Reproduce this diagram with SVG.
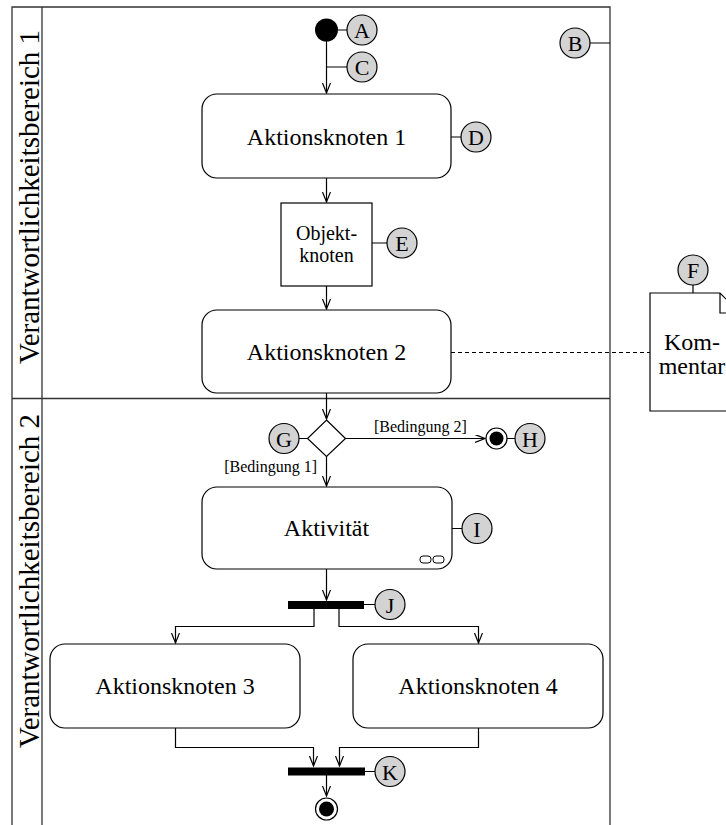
<svg xmlns="http://www.w3.org/2000/svg" width="726" height="825" viewBox="0 0 726 825">
<defs>
<style>
text{font-family:"Liberation Serif","Times New Roman",serif;fill:#000}
.box{fill:#fff;stroke:#000;stroke-width:1.2}
.frame{fill:none;stroke:#333;stroke-width:1.3}
.flow{fill:none;stroke:#000;stroke-width:1.2}
.tie{fill:none;stroke:#000;stroke-width:1.2}
.lbl{fill:#d3d3d3;stroke:#000;stroke-width:1.2}
.lt{font-size:22px;text-anchor:middle}
.main{font-size:24px;text-anchor:middle}
.cond{font-size:16px}
.lane{font-size:29px;text-anchor:middle}
.bar{fill:#000}
</style>
<marker id="arr" markerUnits="userSpaceOnUse" markerWidth="12" markerHeight="10" refX="10" refY="4" orient="auto">
<path d="M0,0 L10,4 L0,8" fill="none" stroke="#000" stroke-width="1.2"/>
</marker>
</defs>
<rect width="726" height="825" fill="#fff"/>

<g id="swimlanes">
<path class="frame" d="M12,826 V7 H610 V826 M42,7 V826 M12,398.5 H610"/>
<text class="lane" transform="translate(39,197) rotate(-90)">Verantwortlichkeitsbereich 1</text>
<text class="lane" transform="translate(39,581) rotate(-90)">Verantwortlichkeitsbereich 2</text>
</g>

<g id="connectors">
<path class="flow" d="M326.5,41 V93" marker-end="url(#arr)"/>
<path class="flow" d="M326.5,178 V202" marker-end="url(#arr)"/>
<path class="flow" d="M326.5,286 V309" marker-end="url(#arr)"/>
<path class="flow" d="M326.5,393 V419" marker-end="url(#arr)"/>
<path class="flow" d="M326.5,456 V486" marker-end="url(#arr)"/>
<path class="flow" d="M346,438.5 H485" marker-end="url(#arr)"/>
<path class="flow" d="M326.5,569 V600" marker-end="url(#arr)"/>
<path class="flow" d="M314,608 V626.5 H175.5 V643" marker-end="url(#arr)"/>
<path class="flow" d="M339,608 V626.5 H478.5 V643" marker-end="url(#arr)"/>
<path class="flow" d="M175.5,728 V747.5 H313.5 V766" marker-end="url(#arr)"/>
<path class="flow" d="M478.5,728 V747.5 H339.5 V766" marker-end="url(#arr)"/>
<path class="flow" d="M326.5,775 V796" marker-end="url(#arr)"/>
<path class="tie" d="M451,352.5 H650" stroke-dasharray="4,3"/>
<path class="tie" d="M338,30 H347 M326.5,67 H347 M590,43 H610 M451,137 H461 M372,243 H387 M693,285 V293 M299,438.5 H308 M507,438.5 H515 M452,528.5 H462 M364,604.5 H375 M365,771.5 H375"/>
</g>

<g id="start">
<circle cx="326.5" cy="30" r="11.5" fill="#000"/>
</g>
<g id="A"><circle class="lbl" cx="362" cy="30" r="15"/><text class="lt" x="362" y="38">A</text></g>
<g id="B"><circle class="lbl" cx="575" cy="43" r="15"/><text class="lt" x="575" y="51">B</text></g>
<g id="C"><circle class="lbl" cx="362" cy="67" r="15"/><text class="lt" x="362" y="75">C</text></g>

<g id="aktionsknoten1">
<rect class="box" x="202" y="94" width="249" height="84" rx="15"/>
<text class="main" x="326.5" y="145">Aktionsknoten 1</text>
</g>
<g id="D"><circle class="lbl" cx="476" cy="137" r="15"/><text class="lt" x="476" y="145">D</text></g>

<g id="objektknoten">
<rect class="box" x="281" y="203" width="91" height="83"/>
<text x="326.5" y="240" style="font-size:20px;text-anchor:middle">Objekt-</text>
<text x="326.5" y="262" style="font-size:20px;text-anchor:middle">knoten</text>
</g>
<g id="E"><circle class="lbl" cx="402" cy="243" r="15"/><text class="lt" x="402" y="251">E</text></g>

<g id="aktionsknoten2">
<rect class="box" x="202" y="310" width="249" height="83" rx="15"/>
<text class="main" x="326.5" y="360">Aktionsknoten 2</text>
</g>

<g id="kommentar">
<path class="box" d="M650,293 H720 L740,313 V411 H650 Z"/>
<path class="flow" d="M720,293 V313 H740"/>
<text class="main" x="692" y="350">Kom-</text>
<text class="main" x="692" y="374">mentar</text>
</g>
<g id="F"><circle class="lbl" cx="693" cy="270" r="15"/><text class="lt" x="693" y="278">F</text></g>

<g id="entscheidung">
<path class="box" d="M326.5,420 L345.5,438.5 L326.5,456.5 L307.5,438.5 Z"/>
<text class="cond" x="374" y="432">[Bedingung 2]</text>
<text class="cond" x="317" y="472" text-anchor="end">[Bedingung 1]</text>
</g>
<g id="G"><circle class="lbl" cx="284" cy="438.5" r="15"/><text class="lt" x="284" y="446.5">G</text></g>

<g id="ende1">
<circle cx="496.5" cy="438.5" r="10.5" fill="#fff" stroke="#000" stroke-width="1.2"/>
<circle cx="496.5" cy="438.5" r="7" fill="#000"/>
</g>
<g id="H"><circle class="lbl" cx="530" cy="438.5" r="15"/><text class="lt" x="530" y="446.5">H</text></g>

<g id="aktivitaet">
<rect class="box" x="202" y="487" width="250" height="82" rx="15"/>
<text class="main" x="326.5" y="536">Aktivität</text>
<rect x="420" y="556" width="11" height="7" rx="3" fill="none" stroke="#000" stroke-width="1"/>
<rect x="433" y="556" width="11" height="7" rx="3" fill="none" stroke="#000" stroke-width="1"/>
</g>
<g id="I"><circle class="lbl" cx="477" cy="528.5" r="15"/><text class="lt" x="477" y="536.5">I</text></g>

<g id="gabelung"><rect class="bar" x="288" y="601" width="76" height="8"/></g>
<g id="J"><circle class="lbl" cx="390" cy="604.5" r="15"/><text class="lt" x="390" y="612.5">J</text></g>

<g id="aktionsknoten3">
<rect class="box" x="50" y="644" width="250" height="84" rx="15"/>
<text class="main" x="175" y="694">Aktionsknoten 3</text>
</g>
<g id="aktionsknoten4">
<rect class="box" x="353" y="644" width="250" height="84" rx="15"/>
<text class="main" x="478" y="694">Aktionsknoten 4</text>
</g>

<g id="vereinigung"><rect class="bar" x="288" y="767.5" width="77" height="8"/></g>
<g id="K"><circle class="lbl" cx="390" cy="771.5" r="15"/><text class="lt" x="390" y="779.5">K</text></g>

<g id="ende2">
<circle cx="326.5" cy="809" r="11" fill="#fff" stroke="#000" stroke-width="1.2"/>
<circle cx="326.5" cy="809" r="7.5" fill="#000"/>
</g>
</svg>
